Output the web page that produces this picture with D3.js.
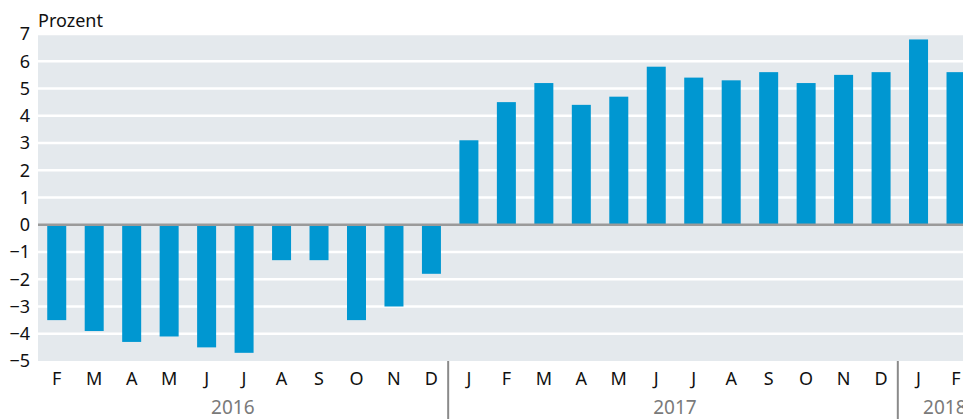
<!DOCTYPE html>
<html>
<head>
<meta charset="utf-8">
<script src="https://cdn.jsdelivr.net/npm/d3@7"></script>
<style>
  body { margin: 0; background: #fff; }
  svg { display: block; font-family: "Noto Sans", sans-serif; }
</style>
</head>
<body>
<svg id="chart" width="963" height="419"></svg>
<script>
// months Feb 2016 .. Feb 2018
const months = ["F","M","A","M","J","J","A","S","O","N","D",
                "J","F","M","A","M","J","J","A","S","O","N","D",
                "J","F"];
const values = [-3.5,-3.9,-4.3,-4.1,-4.5,-4.7,-1.3,-1.3,-3.5,-3.0,-1.8,
                3.1,4.5,5.2,4.4,4.7,5.8,5.4,5.3,5.6,5.2,5.5,5.6,
                6.8,5.6];
const years = ["2016","2017","2018"];
const yearStart = [0, 11, 23];   // index of first month of each year
const yearPos = [5.2, 17, 24.2]; // label anchor, in month steps
const yTicks = d3.range(-5, 8);

const svg = d3.select("#chart");
const padLeft = 38, padTop = 34, padBottom = 361;
const step = 37.47;

const x = d3.scaleBand()
  .domain(d3.range(months.length))
  .range([padLeft, padLeft + step * months.length])
  .paddingInner(0.493).paddingOuter(0.2465);

const y = d3.scaleLinear().domain([-5, 7]).range([padBottom, padTop]);

// panel
svg.append("rect")
  .attr("x", padLeft).attr("y", padTop)
  .attr("width", 963 - padLeft).attr("height", padBottom - padTop)
  .attr("fill", "#e4e9ed");

// grid
svg.append("g").selectAll("line")
  .data(yTicks.filter(d => d !== 0 && d !== -5))
  .enter().append("line")
  .attr("x1", padLeft).attr("x2", 963)
  .attr("y1", d => y(d)).attr("y2", d => y(d))
  .attr("stroke", "#fff").attr("stroke-width", 2.5);

// bars
svg.append("g").selectAll("rect")
  .data(values)
  .enter().append("rect")
  .attr("x", (d, i) => x(i))
  .attr("width", x.bandwidth())
  .attr("y", d => y(Math.max(0, d)))
  .attr("height", d => Math.abs(y(d) - y(0)))
  .attr("fill", "#0097d1");

// zero line
svg.append("line")
  .attr("x1", padLeft).attr("x2", 963)
  .attr("y1", y(0)).attr("y2", y(0))
  .attr("stroke", "#9a9a9a").attr("stroke-width", 2.5);

// y axis labels
svg.append("g").selectAll("text")
  .data(yTicks)
  .enter().append("text")
  .attr("x", 30).attr("y", d => y(d))
  .attr("dy", "0.35em")
  .attr("text-anchor", "end")
  .attr("font-size", 18)
  .attr("fill", "#111")
  .text(d => d < 0 ? "\u2212" + Math.abs(d) : d);

svg.append("text")
  .attr("x", padLeft).attr("y", 27)
  .attr("font-size", 18).attr("fill", "#111")
  .text("Prozent");

// month labels
svg.append("g").selectAll("text")
  .data(months)
  .enter().append("text")
  .attr("x", (d, i) => x(i) + x.bandwidth() / 2)
  .attr("y", 385)
  .attr("text-anchor", "middle")
  .attr("font-size", 18).attr("fill", "#111")
  .text(d => d);

// year separators
svg.append("g").selectAll("line")
  .data(yearStart.slice(1))
  .enter().append("line")
  .attr("x1", d => x(d) - x.step() * x.paddingInner() / 2 - 2)
  .attr("x2", d => x(d) - x.step() * x.paddingInner() / 2 - 2)
  .attr("y1", padBottom).attr("y2", 419)
  .attr("stroke", "#8a8a8a").attr("stroke-width", 2);

// year labels
svg.append("g").selectAll("text")
  .data(years)
  .enter().append("text")
  .attr("x", (d, i) => padLeft + step * yearPos[i])
  .attr("y", 414)
  .attr("text-anchor", "middle")
  .attr("font-size", 19).attr("fill", "#7a7a7a")
  .text(d => d);
</script>
</body>
</html>
